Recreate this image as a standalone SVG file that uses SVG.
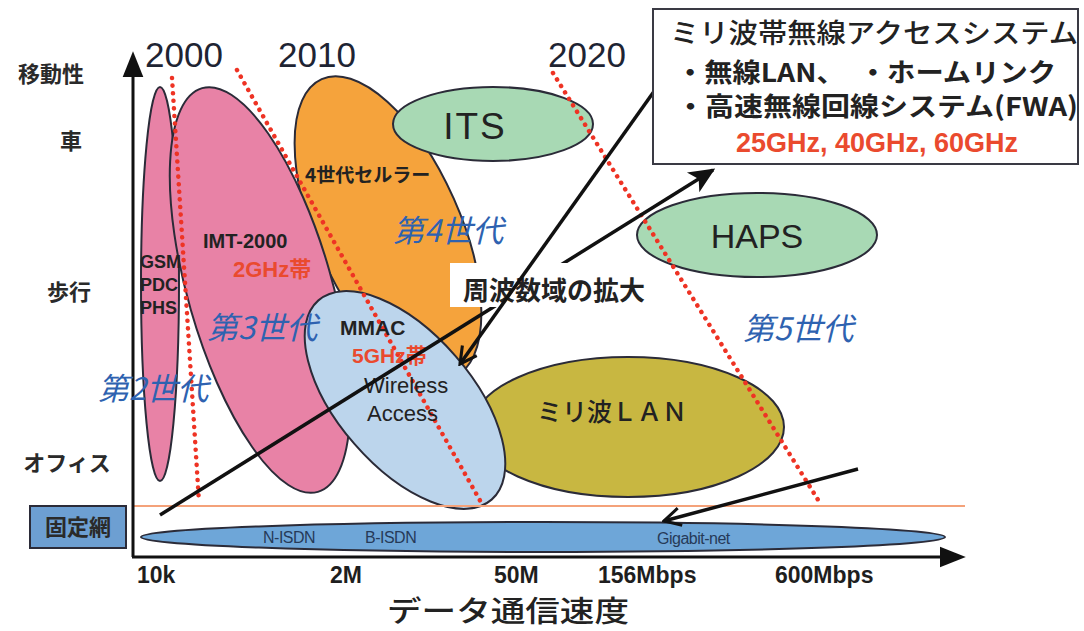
<svg xmlns="http://www.w3.org/2000/svg" width="1084" height="631" viewBox="0 0 1084 631">
<defs>
<style>
.shape{stroke:#2b2b38;stroke-width:2}
.jp{font-family:"Noto Sans CJK JP",sans-serif;fill:#222}
.lat{font-family:"Liberation Sans","Noto Sans CJK JP",sans-serif;fill:#222}
.axl{font-family:"Noto Sans CJK JP",sans-serif;font-size:22px;font-weight:700;fill:#2a2a2a}
.xl{font-family:"Liberation Sans",sans-serif;font-size:23px;font-weight:700;fill:#1e1e1e}
.yr{font-family:"Liberation Sans",sans-serif;font-size:35px;fill:#1e2433}
.gen{font-family:"Noto Sans CJK JP",sans-serif;font-size:31px;font-style:italic;fill:#2e62b0}
.red{fill:#ea4a2e}
.dot{fill:none;stroke:#ee3324;stroke-width:4.5;stroke-linecap:round;stroke-dasharray:0.1 7.5}
.net{font-family:"Liberation Sans",sans-serif;font-size:16px;fill:#263a58;letter-spacing:-0.5px}
.conn{fill:none;stroke:#111;stroke-width:3.5}
</style>
<marker id="barb" viewBox="0 0 20 20" refX="18" refY="10" markerWidth="26" markerHeight="26" markerUnits="userSpaceOnUse" orient="auto">
<path d="M0,1 L20,10 L0,19 L5,10 z" fill="#111"/>
</marker>
<marker id="open" viewBox="0 0 20 20" refX="18" refY="10" markerWidth="22" markerHeight="22" markerUnits="userSpaceOnUse" orient="auto">
<path d="M3,2 L18,10 L3,18" fill="none" stroke="#111" stroke-width="2.8"/>
</marker>
<marker id="tri" viewBox="0 0 20 20" refX="4" refY="10" markerWidth="26" markerHeight="26" markerUnits="userSpaceOnUse" orient="auto">
<path d="M0,2 L20,10 L0,18 z" fill="#111"/>
</marker>
</defs>
<rect width="1084" height="631" fill="#fff"/>

<!-- ellipses -->
<g id="n-4g"><ellipse class="shape" cx="388" cy="228" rx="72" ry="163" transform="rotate(-24 388 228)" fill="#f5a33c"/></g>
<g id="n-2g"><ellipse class="shape" cx="160" cy="284" rx="19" ry="197" fill="#e882a6"/></g>
<g id="n-3g"><ellipse class="shape" cx="260" cy="290" rx="72" ry="210" transform="rotate(-16 260 290)" fill="#e882a6"/></g>
<g id="n-its"><ellipse class="shape" cx="493" cy="124" rx="100" ry="37" fill="#a8d9b4"/>
<text class="lat" x="475" y="139" font-size="37" letter-spacing="2" text-anchor="middle">ITS</text></g>
<g id="n-haps"><ellipse class="shape" cx="757" cy="235" rx="120" ry="42" fill="#a8d9b4"/>
<text class="lat" x="757" y="248" font-size="34" text-anchor="middle">HAPS</text></g>
<g id="n-mlan"><ellipse class="shape" cx="628" cy="427" rx="156" ry="70" fill="#c8b741"/>
<text class="jp" x="537" y="421" font-size="25" font-weight="500">ミリ波ＬＡＮ</text></g>
<g id="n-mmac"><ellipse class="shape" cx="405" cy="400" rx="67" ry="132" transform="rotate(-41 405 400)" fill="#bcd5ec"/></g>

<!-- generation boundaries -->
<g id="boundaries">
<path class="dot" d="M172,78 L199,502"/>
<path class="dot" d="M237,70 L482,504"/>
<path class="dot" d="M553,73 L820,503"/>
<line x1="133" y1="506" x2="965" y2="506" stroke="#f4a27a" stroke-width="2"/>
</g>

<!-- fixed network -->
<g id="n-fixed">
<ellipse class="shape" cx="543" cy="537" rx="402" ry="15" fill="#6ea6d8"/>
<text class="net" x="263" y="543">N-ISDN</text>
<text class="net" x="365" y="543">B-ISDN</text>
<text class="net" x="657" y="544">Gigabit-net</text>
</g>
<g id="n-fixedlabel">
<rect x="30" y="506" width="96" height="42" fill="#6d9fd2" stroke="#2b2b38" stroke-width="2"/>
<text class="axl" x="78" y="535" text-anchor="middle">固定網</text>
</g>

<!-- axes -->
<g id="axes">
<line x1="133" y1="557" x2="133" y2="72" stroke="#111" stroke-width="3" marker-end="url(#tri)"/>
<line x1="132" y1="557" x2="945" y2="557" stroke="#111" stroke-width="3" marker-end="url(#tri)"/>
</g>

<!-- labels inside ellipses -->
<g id="labels">
<text class="lat" font-size="18" font-weight="700" x="140" y="268">GSM</text>
<text class="lat" font-size="18" font-weight="700" x="140" y="291">PDC</text>
<text class="lat" font-size="18" font-weight="700" x="140" y="314">PHS</text>
<text class="lat" font-size="20" font-weight="700" x="203" y="248">IMT-2000</text>
<text class="lat red" font-size="22" font-weight="700" x="233" y="277">2GHz帯</text>
<text class="jp" font-size="19" font-weight="700" x="305" y="182">4世代セルラー</text>
<text class="lat" font-size="21" font-weight="700" x="340" y="335">MMAC</text>
<text class="lat red" font-size="21" font-weight="700" x="352" y="363">5GHz帯</text>
<text class="lat" font-size="22" x="364" y="393" fill="#333">Wireless</text>
<text class="lat" font-size="22" x="367" y="421" fill="#333">Access</text>
<text class="gen" x="98" y="400">第2世代</text>
<text class="gen" x="207" y="339">第3世代</text>
<text class="gen" x="393" y="242">第4世代</text>
<text class="gen" x="743" y="340">第5世代</text>
</g>

<!-- axis labels -->
<g id="axis-labels">
<text class="axl" x="51" y="82" font-size="24" text-anchor="middle">移動性</text>
<text class="axl" x="71" y="149" text-anchor="middle">車</text>
<text class="axl" x="69" y="300" text-anchor="middle">歩行</text>
<text class="axl" x="67" y="471" text-anchor="middle">オフィス</text>
<text class="yr" x="145" y="67">2000</text>
<text class="yr" x="278" y="67">2010</text>
<text class="yr" x="548" y="67">2020</text>
<text class="xl" x="137" y="583">10k</text>
<text class="xl" x="330" y="583">2M</text>
<text class="xl" x="494" y="583">50M</text>
<text class="xl" x="598" y="583">156Mbps</text>
<text class="xl" x="775" y="583">600Mbps</text>
<text class="jp" x="387" y="622" font-size="29" font-weight="500" textLength="242" lengthAdjust="spacingAndGlyphs">データ通信速度</text>
</g>

<!-- connectors -->
<g id="connectors">
<line class="conn" x1="160" y1="515" x2="713" y2="170" marker-end="url(#barb)"/>
<g id="n-expand">
<rect x="450" y="263" width="210" height="44" fill="#fff"/>
<text class="jp" x="463" y="300" font-size="26" font-weight="700">周波数域の拡大</text>
</g>
<line class="conn" x1="655" y1="90" x2="460" y2="364" marker-end="url(#open)"/>
<line class="conn" x1="858" y1="469" x2="664" y2="521" marker-end="url(#open)"/>
</g>

<!-- top-right box -->
<g id="n-mmwave">
<rect x="653" y="9" width="425" height="155" fill="#fff" stroke="#3a3a44" stroke-width="2"/>
<text class="jp" x="670" y="43" font-size="27" font-weight="500" textLength="408" lengthAdjust="spacingAndGlyphs">ミリ波帯無線アクセスシステム</text>
<text class="jp" x="676" y="82" font-size="26" font-weight="700" textLength="380" lengthAdjust="spacingAndGlyphs">・無線LAN、　・ホームリンク</text>
<text class="jp" x="676" y="116" font-size="26" font-weight="700" textLength="402" lengthAdjust="spacingAndGlyphs">・高速無線回線システム(FWA)</text>
<text class="lat red" x="877" y="152" font-size="27" font-weight="700" text-anchor="middle">25GHz, 40GHz, 60GHz</text>
</g>
</svg>
